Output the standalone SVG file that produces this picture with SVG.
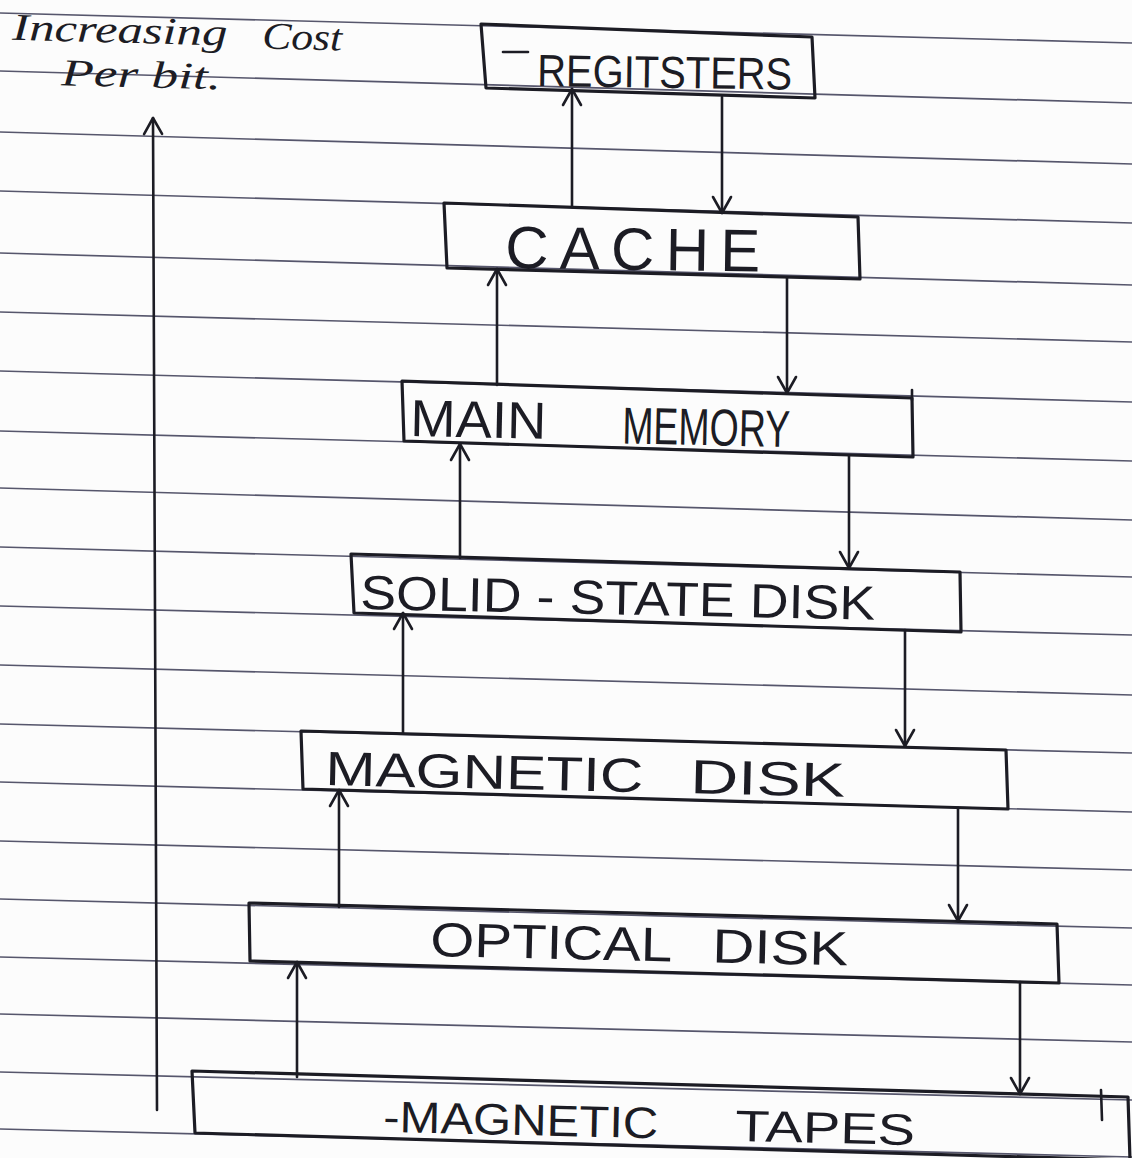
<svg xmlns="http://www.w3.org/2000/svg" width="1132" height="1158" viewBox="0 0 1132 1158">
  <defs>
    <marker id="arrow" viewBox="0 0 24 24" refX="22" refY="12" markerWidth="24" markerHeight="24" markerUnits="userSpaceOnUse" orient="auto">
      <path d="M6,3 L22,12 L6,21" fill="none" stroke="#1c1c24" stroke-width="2.6" stroke-linecap="round" stroke-linejoin="round"/>
    </marker>
  </defs>
  <style>
    .paper { fill: #fcfcfc; }
    .rule { stroke: #56566c; stroke-width: 1.7; fill: none; }
    .box { fill: none; stroke: #1c1c24; stroke-width: 3.2; stroke-linejoin: round; }
    .mark { stroke: #1c1c24; stroke-width: 2.6; stroke-linecap: round; fill: none; }
    .conn path { fill: none; stroke: #1c1c24; stroke-width: 2.6; stroke-linecap: round; }
    .label { font-family: "Liberation Sans", Arial, sans-serif; fill: #1c1c24; }
    .hand { font-family: "Liberation Serif", "Times New Roman", serif; font-style: italic; fill: #1c1c24; }
  </style>

  <rect class="paper" x="0" y="0" width="1132" height="1158"/>

  <g id="ruled-lines">
    <line class="rule" x1="0" y1="13" x2="1132" y2="43"/>
    <line class="rule" x1="0" y1="71" x2="1132" y2="103"/>
    <line class="rule" x1="0" y1="132" x2="1132" y2="164"/>
    <line class="rule" x1="0" y1="191" x2="1132" y2="223"/>
    <line class="rule" x1="0" y1="253" x2="1132" y2="285"/>
    <line class="rule" x1="0" y1="312" x2="1132" y2="342"/>
    <line class="rule" x1="0" y1="371" x2="1132" y2="402"/>
    <line class="rule" x1="0" y1="431" x2="1132" y2="461"/>
    <line class="rule" x1="0" y1="488" x2="1132" y2="520"/>
    <line class="rule" x1="0" y1="547" x2="1132" y2="577"/>
    <line class="rule" x1="0" y1="606" x2="1132" y2="635"/>
    <line class="rule" x1="0" y1="665" x2="1132" y2="695"/>
    <line class="rule" x1="0" y1="724" x2="1132" y2="753"/>
    <line class="rule" x1="0" y1="782" x2="1132" y2="812"/>
    <line class="rule" x1="0" y1="841" x2="1132" y2="870"/>
    <line class="rule" x1="0" y1="899" x2="1132" y2="928"/>
    <line class="rule" x1="0" y1="957" x2="1132" y2="985"/>
    <line class="rule" x1="0" y1="1014" x2="1132" y2="1042"/>
    <line class="rule" x1="0" y1="1072" x2="1132" y2="1100"/>
    <line class="rule" x1="0" y1="1129" x2="1132" y2="1157"/>
  </g>

  <g id="cost-label">
    <text class="hand" font-size="38" transform="rotate(1.5 170 45)">
      <tspan x="12" y="44" textLength="215" lengthAdjust="spacingAndGlyphs">Increasing</tspan>
      <tspan x="262" y="46" textLength="80" lengthAdjust="spacingAndGlyphs">Cost</tspan>
      <tspan x="62" y="88" textLength="160" lengthAdjust="spacingAndGlyphs">Per bit.</tspan>
    </text>
  </g>

  <g id="registers">
    <polygon class="box" points="481,24 812,37 815,98 486,88"/>
    <line class="mark" x1="503" y1="52" x2="528" y2="52"/>
    <text class="label" font-size="45" x="537" y="86" textLength="255" lengthAdjust="spacingAndGlyphs" transform="rotate(0.8 537 86)">REGITSTERS</text>
  </g>

  <g id="cache">
    <polygon class="box" points="444,203 858,217 860,279 447,268"/>
    <text class="label" font-size="60" x="505" y="268" textLength="255" lengthAdjust="spacing" transform="rotate(0.8 505 268)">CACHE</text>
  </g>

  <g id="main-memory">
    <polygon class="box" points="402,381 912,398 913,457 404,441"/>
    <line class="mark" x1="912" y1="390" x2="912" y2="400"/>
    <text class="label" font-size="52" transform="rotate(1.2 410 436)">
      <tspan x="410" y="436" textLength="136" lengthAdjust="spacingAndGlyphs">MAIN</tspan>
      <tspan x="622" y="439" textLength="168" lengthAdjust="spacingAndGlyphs">MEMORY</tspan>
    </text>
  </g>

  <g id="solid-state-disk">
    <polygon class="box" points="351,554 960,572 961,632 354,613"/>
    <text class="label" font-size="48" x="360" y="609" textLength="515" lengthAdjust="spacingAndGlyphs" transform="rotate(1.2 360 609)">SOLID - STATE  DISK</text>
  </g>

  <g id="magnetic-disk">
    <polygon class="box" points="301,731 1006,750 1008,809 303,789"/>
    <text class="label" font-size="48" transform="rotate(1.3 325 785)">
      <tspan x="325" y="785" textLength="318" lengthAdjust="spacingAndGlyphs">MAGNETIC</tspan>
      <tspan x="690" y="785" textLength="155" lengthAdjust="spacingAndGlyphs">DISK</tspan>
    </text>
  </g>

  <g id="optical-disk">
    <polygon class="box" points="249,903 1057,924 1059,983 250,961"/>
    <text class="label" font-size="48" transform="rotate(1.3 430 956)">
      <tspan x="430" y="956" textLength="240" lengthAdjust="spacingAndGlyphs">OPTICAL</tspan>
      <tspan x="712" y="956" textLength="136" lengthAdjust="spacingAndGlyphs">DISK</tspan>
    </text>
  </g>

  <g id="magnetic-tapes">
    <polygon class="box" points="192,1071 1128,1097 1130,1160 195,1133"/>
    <line class="mark" x1="1101" y1="1090" x2="1102" y2="1120"/>
    <text class="label" font-size="44" transform="rotate(1.3 385 1132)">
      <tspan x="383" y="1132" textLength="275" lengthAdjust="spacingAndGlyphs">-MAGNETIC</tspan>
      <tspan x="735" y="1133" textLength="180" lengthAdjust="spacingAndGlyphs">TAPES</tspan>
    </text>
  </g>

  <g id="connectors" class="conn">
    <path d="M157,1110 L153,118" marker-end="url(#arrow)"/>
    <path d="M572,207 L572,89" marker-end="url(#arrow)"/>
    <path d="M722,97 L722,213" marker-end="url(#arrow)"/>
    <path d="M497,385 L497,269" marker-end="url(#arrow)"/>
    <path d="M787,278 L787,393" marker-end="url(#arrow)"/>
    <path d="M460,558 L460,444" marker-end="url(#arrow)"/>
    <path d="M849,456 L849,568" marker-end="url(#arrow)"/>
    <path d="M403,733 L403,613" marker-end="url(#arrow)"/>
    <path d="M905,630 L905,746" marker-end="url(#arrow)"/>
    <path d="M339,907 L339,790" marker-end="url(#arrow)"/>
    <path d="M958,808 L958,921" marker-end="url(#arrow)"/>
    <path d="M297,1077 L297,962" marker-end="url(#arrow)"/>
    <path d="M1020,982 L1020,1094" marker-end="url(#arrow)"/>
  </g>
</svg>
